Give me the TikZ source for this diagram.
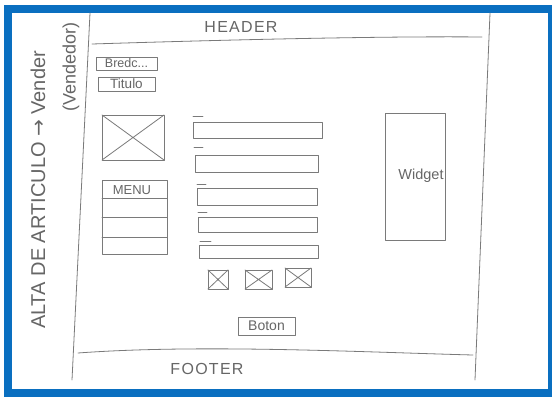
\documentclass[tikz,border=0pt]{standalone}
\usepackage{fontspec}
\setmainfont{Liberation Sans}
\newfontfamily\symfont{DejaVu Sans}
\definecolor{frameblue}{HTML}{0A6FC0}
\definecolor{pencil}{HTML}{7A7A7A}
\definecolor{ink}{HTML}{666666}
\begin{document}
\begin{tikzpicture}[x=1pt,y=-1pt,
  line/.style={draw=pencil, line width=0.8pt, line cap=round, line join=round},
  box/.style={line, rectangle, inner sep=0pt, outer sep=0pt},
  lbl/.style={text=ink, inner sep=0pt},
  xbox/.style={box}]
\useasboundingbox (0,0) rectangle (552,397);
% blue frame
\fill[frameblue] (4,5) rectangle (552,397);
\fill[white] (12,13) rectangle (548,389);
% page outline
\coordinate (lt) at (90,13);
\coordinate (lb) at (72,380);
\coordinate (rt) at (490,13);
\coordinate (rb) at (475,380);
\draw[line] (lt) -- (lb);
\draw[line] (rt) -- (rb);
\coordinate (hl) at (92,44);
\coordinate (hr) at (482,37);
\draw[line] (hl) .. controls (220,40) and (380,36) .. (hr);
\coordinate (fl) at (78,353);
\coordinate (fr) at (473,355);
\draw[line] (fl) .. controls (200,344) and (360,352) .. (fr);
% labels
\node[lbl, font=\fontsize{16}{16}\selectfont\addfontfeatures{LetterSpace=8}] (header) at (241,27) {HEADER};
\node[lbl, font=\fontsize{16}{16}\selectfont\addfontfeatures{LetterSpace=8}] (footer) at (207,369) {FOOTER};
\node[lbl, rotate=90, font=\fontsize{20}{20}\selectfont] (side) at (38,190) {ALTA DE ARTICULO {\symfont →} Vender};
\node[lbl, rotate=90, font=\fontsize{18}{18}\selectfont] (vend) at (71,67) {(Vendedor)};
% breadcrumb and title
\node[box, minimum width=61pt, minimum height=13pt, font=\fontsize{12.5}{12.5}\selectfont, text=ink] (bred) at (126.5,63.5) {Bredc...};
\node[box, minimum width=57pt, minimum height=14pt, font=\fontsize{13.5}{13.5}\selectfont, text=ink] (tit) at (126.5,84) {Titulo};
% image placeholder
\node[box, minimum width=62pt, minimum height=45pt] (img) at (133,137.5) {};
\draw[line] (img.north west) -- (img.south east) (img.north east) -- (img.south west);
% menu
\node[box, minimum width=65pt, minimum height=74pt] (menu) at (134.5,217) {};
\node[lbl, font=\fontsize{13}{13}\selectfont] (menut) at (132,190) {MENU};
\draw[line] (102,198) -- (167,198);
\draw[line] (102,217) -- (167,217);
\draw[line] (102,237) -- (167,237);
% form fields
\node[box, minimum width=129pt, minimum height=16pt] (f1) at (257.5,130) {};
\node[box, minimum width=123pt, minimum height=17pt] (f2) at (256.5,163.5) {};
\node[box, minimum width=120pt, minimum height=17pt] (f3) at (257,196.5) {};
\node[box, minimum width=119pt, minimum height=15pt] (f4) at (257.5,224.5) {};
\node[box, minimum width=119pt, minimum height=13pt] (f5) at (258.5,251.5) {};
\draw[line] (193,116) -- (203,116);
\draw[line] (194,147) -- (203,147);
\draw[line] (197,184) -- (206,184);
\draw[line] (198,212) -- (207,212);
\draw[line] (200,241) -- (211,241);
% checkboxes
\node[xbox, minimum width=20pt, minimum height=19pt] (c1) at (218,279.5) {};
\node[xbox, minimum width=27pt, minimum height=19pt] (c2) at (258.5,279.5) {};
\node[xbox, minimum width=26pt, minimum height=19pt] (c3) at (298,277.5) {};
\foreach \c in {c1,c2,c3}
  \draw[line] (\c.north west) -- (\c.south east) (\c.north east) -- (\c.south west);
% widget
\node[box, minimum width=60pt, minimum height=127pt] (widget) at (415,176.5) {};
\node[lbl, font=\fontsize{14.5}{14.5}\selectfont] (widgett) at (421,176) {Widget};
% button
\node[box, minimum width=57pt, minimum height=18pt, font=\fontsize{14}{14}\selectfont, text=ink] (boton) at (266.5,326) {Boton};
\end{tikzpicture}
\end{document}
